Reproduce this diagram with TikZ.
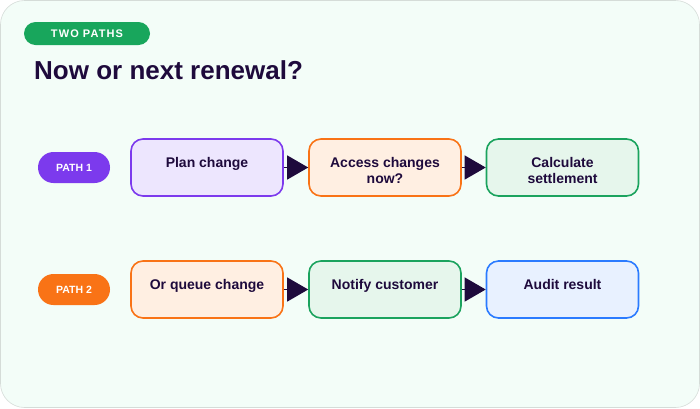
\documentclass[tikz,border=0pt]{standalone}
\usepackage{fontspec}
\setmainfont{Liberation Sans}
\usetikzlibrary{arrows.meta}
\definecolor{bg}{HTML}{F3FDF8}
\definecolor{bgline}{HTML}{D5DCD8}
\definecolor{ink}{HTML}{1E0A3C}
\definecolor{badgegreen}{HTML}{18A65C}
\definecolor{purp}{HTML}{7C3AED}
\definecolor{purpfill}{HTML}{EDE6FE}
\definecolor{orng}{HTML}{F97316}
\definecolor{orngfill}{HTML}{FFEFE2}
\definecolor{grn}{HTML}{1BA35E}
\definecolor{grnfill}{HTML}{E6F6EC}
\definecolor{blu}{HTML}{2B7BFF}
\definecolor{blufill}{HTML}{E8F1FF}
\tikzset{
  stepbox/.style={draw=#1, fill=#1fill, line width=1.6pt, rounded corners=12pt,
    minimum width=152pt, minimum height=57pt, inner sep=0pt},
  boxtext/.style={font=\bfseries\fontsize{14}{16}\selectfont, text=ink, align=center,
    anchor=north, inner sep=0pt},
  pathpill/.style={fill=#1, rounded corners=15.5pt, minimum width=72pt, minimum height=31pt,
    inner sep=0pt, text=white, font=\bfseries\fontsize{10.5}{12}\selectfont},
  flow/.style={draw=ink, line width=1.2pt, -{Triangle[length=21pt,width=24pt]}}
}
\begin{document}
\begin{tikzpicture}[x=1pt,y=-1pt]
\useasboundingbox (0,0) rectangle (700,408);
\draw[draw=bgline, fill=bg, line width=0.6pt, rounded corners=24pt] (0.5,0.5) rectangle (699.5,407.5);

\node[fill=badgegreen, rounded corners=11.5pt, minimum width=126pt, minimum height=23pt, inner sep=0pt,
  text=white, font=\bfseries\fontsize{11}{12}\selectfont\addfontfeature{LetterSpace=10}] (badge) at (87,33.5) {TWO PATHS};
\node[anchor=base west, inner sep=0pt, text=ink, font=\bfseries\fontsize{26}{28}\selectfont] (title) at (34,79) {Now or next renewal?};

% Row 1
\node[pathpill=purp] (pill1) at (74,167.5) {PATH 1};
\node[stepbox=purp] (a1) at (207,167.5) {};
\node[stepbox=orng] (a2) at (385,167.5) {};
\node[stepbox=grn] (a3) at (562.5,167.5) {};
\node[boxtext] (t11) at ([yshift=-18.5pt]a1.north) {Plan change};
\node[boxtext] (t12) at ([yshift=-18.5pt]a2.north) {Access changes\\now?};
\node[boxtext] (t13) at ([yshift=-18.5pt]a3.north) {Calculate\\settlement};
\draw[flow] (a1.east) -- (a2.west);
\draw[flow] (a2.east) -- (a3.west);

% Row 2
\node[pathpill=orng] (pill2) at (74,289.5) {PATH 2};
\node[stepbox=orng] (b1) at (207,289.5) {};
\node[stepbox=grn] (b2) at (385,289.5) {};
\node[stepbox=blu] (b3) at (562.5,289.5) {};
\node[boxtext] (t21) at ([yshift=-18.5pt]b1.north) {Or queue change};
\node[boxtext] (t22) at ([yshift=-18.5pt]b2.north) {Notify customer};
\node[boxtext] (t23) at ([yshift=-18.5pt]b3.north) {Audit result};
\draw[flow] (b1.east) -- (b2.west);
\draw[flow] (b2.east) -- (b3.west);
\end{tikzpicture}
\end{document}
